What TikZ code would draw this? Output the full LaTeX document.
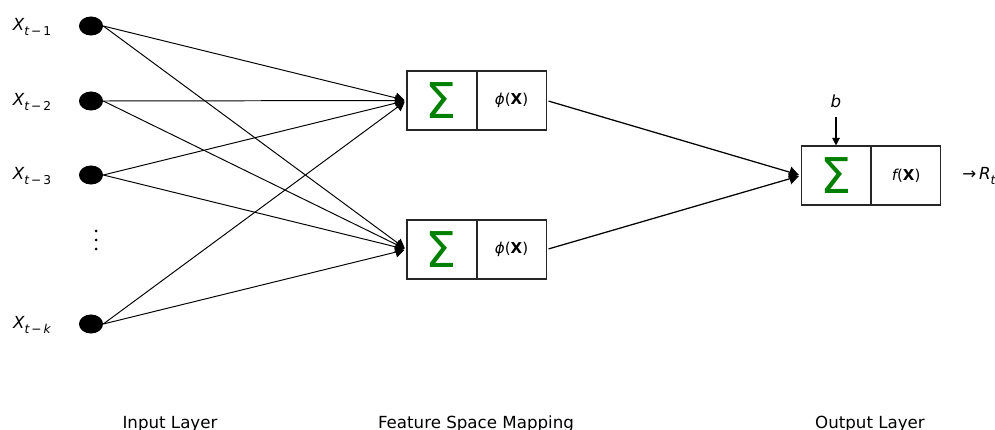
\documentclass[tikz,border=0pt]{standalone}
\usepackage{fontspec}
\setmainfont{DejaVu Sans}
\usetikzlibrary{shapes.geometric,arrows.meta}
\newcommand{\inlab}[1]{{\itshape X}\raisebox{-0.5ex}{\fontsize{8.8}{8.8}\selectfont{\itshape t}\,−\,#1}}
\begin{document}
\begin{tikzpicture}[x=0.72pt,y=-0.72pt,
  inp/.style={ellipse,fill=black,inner sep=0pt,minimum width=17.3pt,minimum height=13.7pt},
  xlab/.style={font=\fontsize{12}{12}\selectfont,inner sep=0pt},
  sbox/.style={draw=black!85,line width=0.75pt,minimum width=49.7pt,minimum height=42.5pt,inner sep=0pt,
     font=\fontsize{35.5}{36}\selectfont,text=green!50!black},
  pbox/.style={draw=black!85,line width=0.75pt,minimum width=49.7pt,minimum height=42.5pt,inner sep=0pt,
     font=\fontsize{10.8}{11}\selectfont},
  conn/.style={line width=0.7pt,-{Triangle[length=6.5pt,width=7.5pt]},shorten >=1.5pt},
  conn2/.style={line width=0.9pt,-{Triangle[length=7pt,width=8pt]},shorten >=1.5pt,shorten <=1.5pt},
  captxt/.style={font=\fontsize{12}{12}\selectfont,anchor=base,inner sep=0pt}]
\useasboundingbox (0,0) rectangle (995,430);
% input layer
\node[inp] (x1) at (91,26) {};
\node[inp] (x2) at (91,101) {};
\node[inp] (x3) at (91,175) {};
\node[inp] (xk) at (91,324) {};
\node[xlab] (l1) at (32,27) {\inlab{1}};
\node[xlab] (l2) at (32,102) {\inlab{2}};
\node[xlab] (l3) at (32,176) {\inlab{3}};
\node[xlab] (lk) at (32,325) {{\itshape X}\raisebox{-0.5ex}{\fontsize{8.8}{8.8}\selectfont{\itshape t}\,−\,{\itshape k}}};
\foreach \yy in {231,240,249} \fill (96,\yy) circle[radius=1.5];
% hidden layer
\node[sbox] (h1s) at (441.5,100.5) {Σ};
\node[pbox,anchor=west] (h1p) at (h1s.east) {{\itshape ϕ}(\textbf{X})};
\node[sbox] (h2s) at (441.5,249.5) {Σ};
\node[pbox,anchor=west] (h2p) at (h2s.east) {{\itshape ϕ}(\textbf{X})};
% output
\node[sbox] (os) at (836,175.5) {Σ};
\node[pbox,anchor=west] (op) at (os.east) {{\itshape f}(\textbf{X})};
\node[xlab] (b) at (836,101) {{\itshape b}};
\coordinate (bt) at (836,117);
\draw[line width=0.8pt,-{Triangle[length=5.5pt,width=5.5pt]}] (bt) -- (os.north);
\node[xlab,anchor=west] (rt) at (962,176) {→\,{\itshape R}\raisebox{-0.5ex}{\fontsize{8.8}{8.8}\selectfont{\itshape t}}};
% connectors
\foreach \s in {x1,x2,x3,xk}{
  \draw[conn] (\s.east) -- (h1s.west);
  \draw[conn] (\s.east) -- (h2s.west);
}
\draw[conn2] (h1p.east) -- (os.west);
\draw[conn2] (h2p.east) -- (os.west);
% captions
\node[captxt] (c1) at (170,428) {Input Layer};
\node[captxt] (c2) at (476,428) {Feature Space Mapping};
\node[captxt] (c3) at (870,428) {Output Layer};
\end{tikzpicture}
\end{document}
